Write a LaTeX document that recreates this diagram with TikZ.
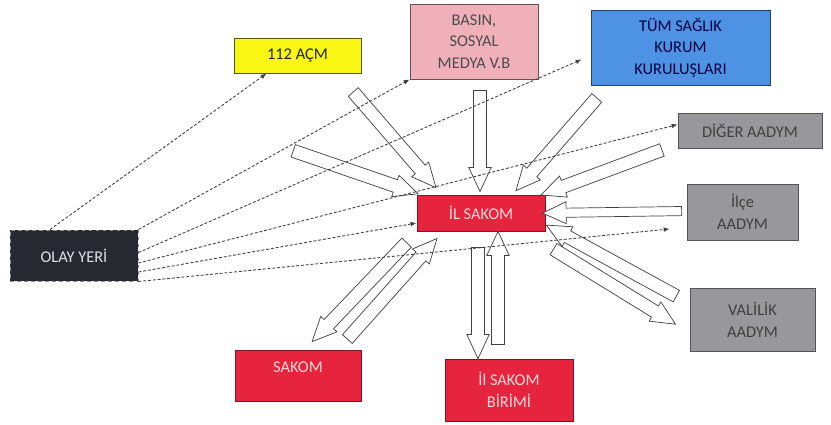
\documentclass[tikz,border=0pt]{standalone}
\usepackage{fontspec}
\setmainfont{Carlito}
\usetikzlibrary{calc, shapes.arrows, arrows.meta}

\definecolor{acmyellow}{RGB}{250,246,20}
\definecolor{basinpink}{RGB}{240,176,186}
\definecolor{tumblue}{RGB}{78,146,228}
\definecolor{aadymgray}{RGB}{152,152,156}
\definecolor{sakomred}{RGB}{230,36,62}
\definecolor{olaydark}{RGB}{38,42,48}

% hollow block arrow between two named coordinates
\newcommand{\blockarrow}[3][]{%
  \path let \p1=(#2), \p2=(#3),
    \n1={atan2(\y2-\y1,\x2-\x1)}, \n2={veclen(\x2-\x1,\y2-\y1)} in
    node[fatarrow, #1, minimum height=\n2, rotate=\n1] at ($(#2)!0.5!(#3)$) {};}

\begin{document}
\begin{tikzpicture}[x=0.03cm, y=-0.03cm,
  box/.style={rectangle, line width=0.8pt, align=center, inner sep=2pt,
    font=\fontsize{14}{18.5}\selectfont},
  yellowbox/.style={box, fill=acmyellow, draw=acmyellow!35!black, text=black!85},
  pinkbox/.style={box, fill=basinpink, draw=basinpink!45!black, text=black!70},
  bluebox/.style={box, fill=tumblue, draw=tumblue!45!black, text=blue!25!black},
  graybox/.style={box, fill=aadymgray, draw=aadymgray!55!black, text=black!75},
  redbox/.style={box, fill=sakomred, draw=sakomred!55!black, text=red!15!white},
  darkbox/.style={box, fill=olaydark, draw=black!45, dashed, text=black!12},
  fatarrow/.style={single arrow, draw=black!75, fill=white, line width=0.6pt,
    inner xsep=0pt, inner ysep=5.3pt, single arrow head extend=4pt,
    single arrow tip angle=50},
  flow/.style={line width=0.75pt, draw=black!75, dash pattern=on 2.5pt off 1.6pt,
    -{Latex[length=5pt,width=4pt]}}]

\useasboundingbox (0,0) rectangle (831,425);

% boxes
\node[yellowbox, minimum width=3.81cm, minimum height=1.05cm] (acm) at (297.5,55.5) {112 AÇM};
\node[pinkbox, minimum width=3.84cm, minimum height=2.25cm] (basin) at (474,41.5) {BASIN,\\SOSYAL\\MEDYA V.B};
\node[bluebox, minimum width=5.37cm, minimum height=2.25cm] (tum) at (680.5,47.5) {TÜM SAĞLIK\\KURUM\\KURULUŞLARI};
\node[graybox, minimum width=4.32cm, minimum height=1.05cm] (diger) at (750,130.5) {DİĞER AADYM};
\node[graybox, minimum width=3.33cm, minimum height=1.68cm] (ilce) at (742.5,212) {İlçe\\AADYM};
\node[graybox, minimum width=3.75cm, minimum height=1.89cm] (valilik) at (752.5,319.5) {VALİLİK\\AADYM};
\node[redbox, minimum width=3.84cm, minimum height=1.08cm] (ilsakom) at (481,213) {İL SAKOM};
\node[redbox, minimum width=3.84cm, minimum height=1.86cm] (birimi) at (509,390) {İl SAKOM\\BİRİMİ};
\node[redbox, minimum width=3.78cm, minimum height=1.53cm, text depth=14pt] (sakom) at (298,375.5) {SAKOM};
\node[darkbox, minimum width=3.84cm, minimum height=1.53cm] (olay) at (74,255.5) {OLAY YERİ};

% ends of the block arrows
\coordinate (a1t) at ($(acm.south east)+(-13,13)$);
\coordinate (a1h) at ($(ilsakom.north west)+(15,-12)$);
\coordinate (a2t) at ($(ilsakom.north west)+(-130,-46)$);
\coordinate (a2h) at ($(ilsakom.north west)+(-5,-3)$);
\coordinate (a3t) at ($(basin.south)+(6,4)$);
\coordinate (a3h) at ($(ilsakom.north)+(-1,-10)$);
\coordinate (a4t) at ($(tum.south west)+(11,7)$);
\coordinate (a4h) at ($(ilsakom.north east)+(-25,-9)$);
\coordinate (a5t) at ($(diger.south west)+(-9,-1)$);
\coordinate (a5h) at ($(ilsakom.north east)+(2,-2)$);
\coordinate (a6t) at ($(ilce.west)+(0,-1)$);
\coordinate (a6h) at ($(ilsakom.east)+(2,0)$);
\coordinate (a7t) at ($(ilsakom.south east)+(2,14)$);
\coordinate (a7h) at ($(valilik.west)+(-20,1)$);
\coordinate (a8t) at ($(valilik.north west)+(-7,12)$);
\coordinate (a8h) at ($(ilsakom.south east)+(7,-3)$);
\coordinate (a9t) at ($(ilsakom.south west)+(-5,6)$);
\coordinate (a9h) at ($(sakom.north)+(19,-13)$);
\coordinate (a10t) at ($(sakom.north east)+(-19,-5)$);
\coordinate (a10h) at ($(ilsakom.south west)+(16,12)$);
\coordinate (a11t) at ($(ilsakom.south)+(-3,9)$);
\coordinate (a11h) at ($(birimi.north)+(-31,-7)$);
\coordinate (a12t) at ($(birimi.north)+(-11,-7)$);
\coordinate (a12h) at ($(ilsakom.south)+(17,7)$);

% block arrows
\blockarrow{a1t}{a1h}
\blockarrow{a2t}{a2h}
\blockarrow{a3t}{a3h}
\blockarrow{a4t}{a4h}
\blockarrow{a5t}{a5h}
\blockarrow[inner ysep=3.6pt, single arrow head extend=5.5pt]{a6t}{a6h}
\blockarrow{a7t}{a7h}
\blockarrow{a8t}{a8h}
\blockarrow{a9t}{a9h}
\blockarrow{a10t}{a10h}
\blockarrow{a11t}{a11h}
\blockarrow{a12t}{a12h}

% dashed lines out of OLAY YERI
\draw[flow] ($(olay.north)+(-24,0)$) -- ($(acm.south)+(-31,0)$);
\draw[flow] (olay.north east) -- (basin.south west);
\draw[flow] ($(olay.east)+(0,-3)$) -- ($(tum.west)+(-9,12)$);
\draw[flow] ($(olay.east)+(0,7.5)$) -- ($(diger.west)+(0,-6)$);
\draw[flow] ($(olay.east)+(0,16.5)$) -- ($(ilsakom.west)+(0,10)$);
\draw[flow] (olay.south east) -- ($(ilce.west)+(-17,17)$);

\end{tikzpicture}
\end{document}
